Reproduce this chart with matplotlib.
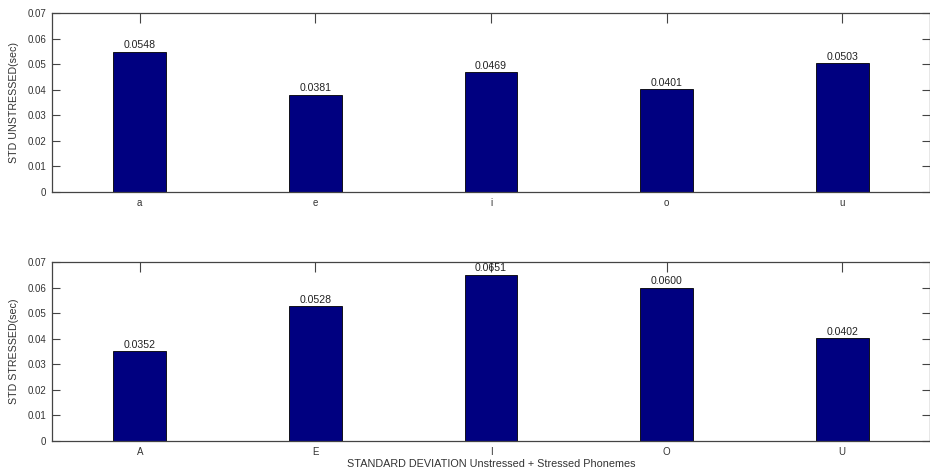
import matplotlib
matplotlib.use('Agg')
import matplotlib.pyplot as plt

# unstressed / stressed vowel std (sec)
unstressed_labels = ['a', 'e', 'i', 'o', 'u']
unstressed_std = [0.0548, 0.0381, 0.0469, 0.0401, 0.0503]
stressed_labels = ['A', 'E', 'I', 'O', 'U']
stressed_std = [0.0352, 0.0528, 0.0651, 0.0600, 0.0402]
yticks = [0, 0.01, 0.02, 0.03, 0.04, 0.05, 0.06, 0.07]

plt.rcParams['font.family'] = ['Liberation Sans', 'DejaVu Sans']
plt.rcParams['font.size'] = 7

W, H = 930, 476
fig = plt.figure(figsize=(W / 100, H / 100), dpi=100)
ax1 = fig.add_axes([52 / W, 1 - 192 / H, 878 / W, 179 / H])
ax2 = fig.add_axes([52 / W, 1 - 441 / H, 878 / W, 179 / H])

bar_color = '#000080'
axis_color = '#444444'


def draw(ax, labels, vals, ylabel):
    x = list(range(1, len(vals) + 1))
    ax.bar(x, vals, width=0.3, color=bar_color, edgecolor='black', linewidth=0.6, zorder=2)
    for xi, v in zip(x, vals):
        ax.annotate('%.4f' % v, (xi, v), xytext=(0, 1), textcoords='offset points',
                    ha='center', va='bottom', fontsize=7.6, color='#222222')
    ax.set_xlim(0.5, 5.5)
    ax.set_ylim(0, 0.07)
    ax.set_yticks(yticks)
    ax.set_yticklabels(['0' if t == 0 else '%.2f' % t for t in yticks])
    ax.set_xticks(x)
    ax.set_xticklabels(labels)
    ax.tick_params(direction='in', width=0.8, colors=axis_color,
                   labelcolor='#333333', top=True, right=True, pad=4)
    ax.tick_params(axis='y', length=6)
    ax.tick_params(axis='x', length=7)
    for s in ax.spines.values():
        s.set_color(axis_color)
        s.set_linewidth(0.9)
    ax.set_ylabel(ylabel, color='#333333', fontsize=7.7, labelpad=6)


draw(ax1, unstressed_labels, unstressed_std, 'STD UNSTRESSED(sec)')
draw(ax2, stressed_labels, stressed_std, 'STD STRESSED(sec)')
ax2.set_xlabel('STANDARD DEVIATION Unstressed + Stressed Phonemes', color='#333333',
               fontsize=7.8, labelpad=2)

fig.savefig('out.png', dpi=100)
